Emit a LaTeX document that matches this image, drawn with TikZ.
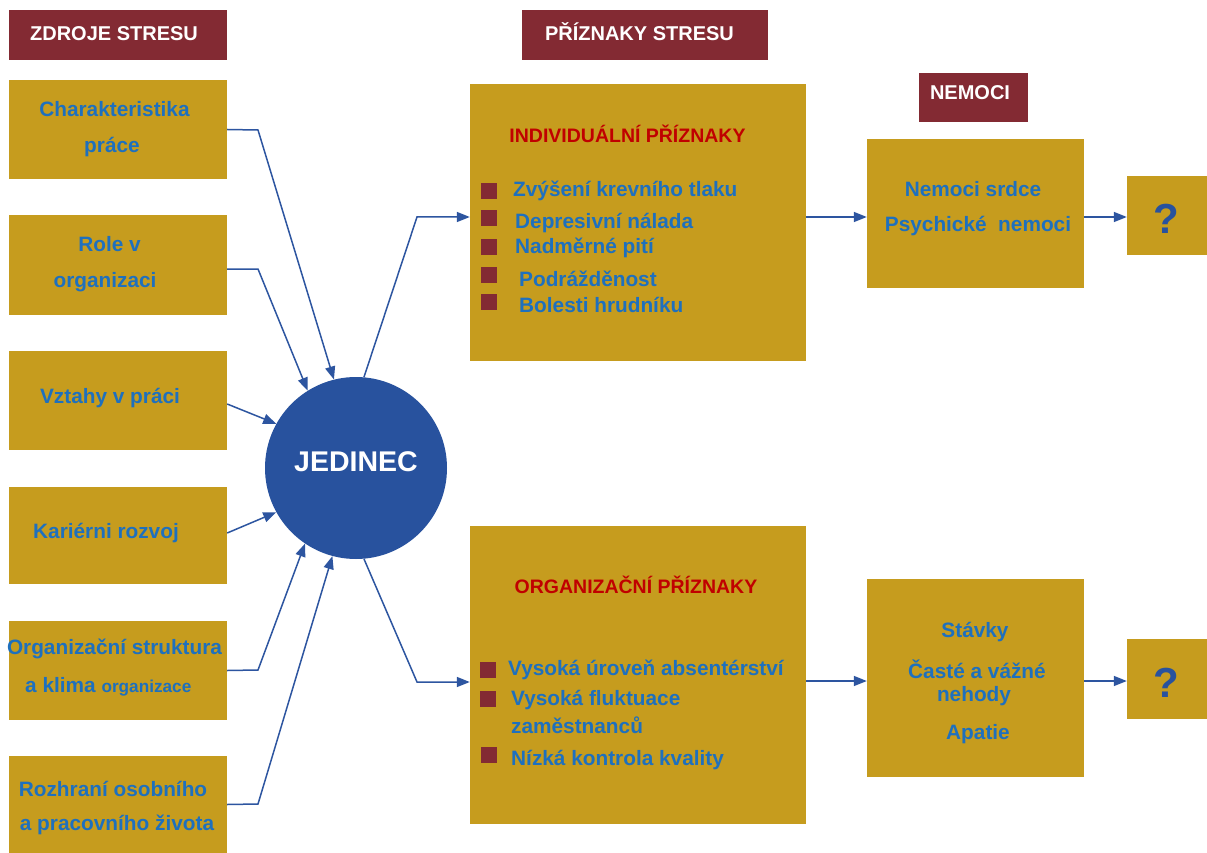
\documentclass[tikz,border=0pt]{standalone}
\usepackage{fontspec}
\setmainfont{Liberation Sans}
\usetikzlibrary{arrows.meta}
\definecolor{gold}{RGB}{198,156,30}
\definecolor{wine}{RGB}{131,42,51}
\definecolor{txtblue}{RGB}{30,112,190}
\definecolor{circblue}{RGB}{40,82,158}
\definecolor{lineblue}{RGB}{45,85,160}
\definecolor{titlered}{RGB}{192,0,0}
\begin{document}
\begin{tikzpicture}[x=1pt,y=-1pt,
  goldbox/.style={fill=gold, draw=none, inner sep=0},
  hdrbox/.style={fill=wine, draw=none, inner sep=0},
  hdrtxt/.style={text=white, inner sep=0, font=\fontsize{20}{23}\selectfont\bfseries},
  btxt/.style={text=txtblue, inner sep=0, font=\fontsize{20.8}{24}\selectfont\bfseries},
  rtxt/.style={text=titlered, inner sep=0, font=\fontsize{19.5}{23}\selectfont\bfseries},
  bul/.style={fill=wine, minimum size=16pt, inner sep=0},
  qtxt/.style={text=circblue, inner sep=0, font=\fontsize{42}{46}\selectfont\bfseries},
  conn/.style={draw=lineblue, line width=1.5pt, -{Triangle[length=13pt,width=10pt]}}]
\useasboundingbox (0,0) rectangle (1207,853);
\fill[white] (0,0) rectangle (1207,853);

% headers
\node[hdrbox, minimum width=218pt, minimum height=50pt] (h1) at (118,35) {};
\node[hdrtxt] (h1t) at (114,34) {ZDROJE STRESU};
\node[hdrbox, minimum width=246pt, minimum height=50pt] (h2) at (645,35) {};
\node[hdrtxt] (h2t) at (639.5,32) {PŘÍZNAKY STRESU};
\node[hdrbox, minimum width=109pt, minimum height=49pt] (h3) at (973.5,97.5) {};
\node[hdrtxt] (h3t) at (970,93) {NEMOCI};

% left source boxes
\node[goldbox, minimum width=218pt, minimum height=99pt] (s1) at (118,129.5) {};
\node[goldbox, minimum width=218pt, minimum height=100pt] (s2) at (118,265) {};
\node[goldbox, minimum width=218pt, minimum height=99pt] (s3) at (118,400.5) {};
\node[goldbox, minimum width=218pt, minimum height=97pt] (s4) at (118,535.5) {};
\node[goldbox, minimum width=218pt, minimum height=99pt] (s5) at (118,670.5) {};
\node[goldbox, minimum width=218pt, minimum height=97pt] (s6) at (118,804.5) {};

\node[btxt] (s1a) at (114.5,109) {Charakteristika};
\node[btxt] (s1b) at (112,147) {práce};
\node[btxt] (s2a) at (109.5,244) {Role v};
\node[btxt] (s2b) at (105,282) {organizaci};
\node[btxt] (s3a) at (110,398) {Vztahy v práci};
\node[btxt] (s4a) at (106,533) {Kariérni rozvoj};
\node[btxt] (s5a) at (114.5,649) {Organizační struktura};
\node[btxt, anchor=west] (s5b) at (25,687) {a klima {\fontsize{17.2}{20}\selectfont organizace}};
\node[btxt] (s6a) at (113,789) {Rozhraní osobního};
\node[btxt] (s6b) at (117,825) {a pracovního života};

% centre
\node[circle, fill=circblue, minimum size=182pt, inner sep=0] (J) at (356,468) {};
\node[text=white, inner sep=0, font=\fontsize{28.5}{32}\selectfont\bfseries] (Jt) at (356,462) {JEDINEC};

% symptom boxes
\node[goldbox, minimum width=336pt, minimum height=277pt] (ind) at (638,222.5) {};
\node[rtxt] (indt) at (627.5,134) {INDIVIDUÁLNÍ PŘÍZNAKY};
\node[bul] (ib1) at (489,191) {};
\node[bul] (ib2) at (489,218) {};
\node[bul] (ib3) at (489,247) {};
\node[bul] (ib4) at (489,275) {};
\node[bul] (ib5) at (489,302) {};
\node[btxt, anchor=west] (it1) at (513,191) {Zvýšení krevního tlaku};
\node[btxt, anchor=west] (it2) at (515,223) {Depresivní nálada};
\node[btxt, anchor=west] (it3) at (515,248) {Nadměrné pití};
\node[btxt, anchor=west] (it4) at (519,279) {Podrážděnost};
\node[btxt, anchor=west] (it5) at (519,305) {Bolesti hrudníku};

\node[goldbox, minimum width=336pt, minimum height=298pt] (org) at (638,675) {};
\node[rtxt] (orgt) at (636,585) {ORGANIZAČNÍ PŘÍZNAKY};
\node[bul] (ob1) at (488,670) {};
\node[bul] (ob2) at (488,699) {};
\node[bul] (ob3) at (489,755) {};
\node[btxt, anchor=west] (ot1) at (508,670) {Vysoká úroveň absentérství};
\node[btxt, anchor=west] (ot2) at (511,700) {Vysoká fluktuace};
\node[btxt, anchor=west] (ot3) at (511,725) {zaměstnanců};
\node[btxt, anchor=west] (ot4) at (511,760) {Nízká kontrola kvality};

% disease boxes
\node[goldbox, minimum width=217pt, minimum height=149pt] (nem) at (975.5,213.5) {};
\node[btxt] (nt1) at (973,189) {Nemoci srdce};
\node[btxt] (nt2) at (978,226) {Psychické\ \ nemoci};
\node[goldbox, minimum width=80pt, minimum height=79pt] (q1) at (1167,215.5) {};
\node[qtxt] (q1t) at (1166,219) {?};

\node[goldbox, minimum width=217pt, minimum height=198pt] (stv) at (975.5,678) {};
\node[btxt] (vt1) at (975,632) {Stávky};
\node[btxt] (vt2) at (977,669) {Časté a vážné};
\node[btxt] (vt3) at (974,696) {nehody};
\node[btxt] (vt4) at (978,734) {Apatie};
\node[goldbox, minimum width=80pt, minimum height=80pt] (q2) at (1167,679) {};
\node[qtxt] (q2t) at (1166,683) {?};

% kink coordinates
\coordinate (k1) at (258,130);
\coordinate (k2) at (258,269);
\coordinate (k5) at (258,670);
\coordinate (k6) at (258,804);
\coordinate (ko1) at (417,217);
\coordinate (ko2) at (417,682);

% connectors into the circle
\draw[conn] (s1.east) -- (k1) -- (J.104);
\draw[conn] ([yshift=-4pt]s2.east) -- (k2) -- (J.122.5);
\draw[conn] ([yshift=-3.5pt]s3.east) -- (J.151);
\draw[conn] ([yshift=2.5pt]s4.east) -- (J.209.5);
\draw[conn] (s5.east) -- (k5) -- (J.236.5);
\draw[conn] (s6.east) -- (k6) -- (J.255);

% connectors out of the circle
\draw[conn] (J.85) -- (ko1) -- (ko1 -| ind.west);
\draw[conn] (J.275) -- (ko2) -- (ko2 -| org.west);

% onward connectors
\draw[conn] (ko1 -| ind.east) -- (ko1 -| nem.west);
\draw[conn] (ko1 -| nem.east) -- (ko1 -| q1.west);
\draw[conn] ([yshift=-3pt]stv.west -| org.east) -- ([yshift=-3pt]stv.west);
\draw[conn] ([yshift=-3pt]stv.east) -- ([yshift=-3pt]stv.east -| q2.west);
\end{tikzpicture}
\end{document}
